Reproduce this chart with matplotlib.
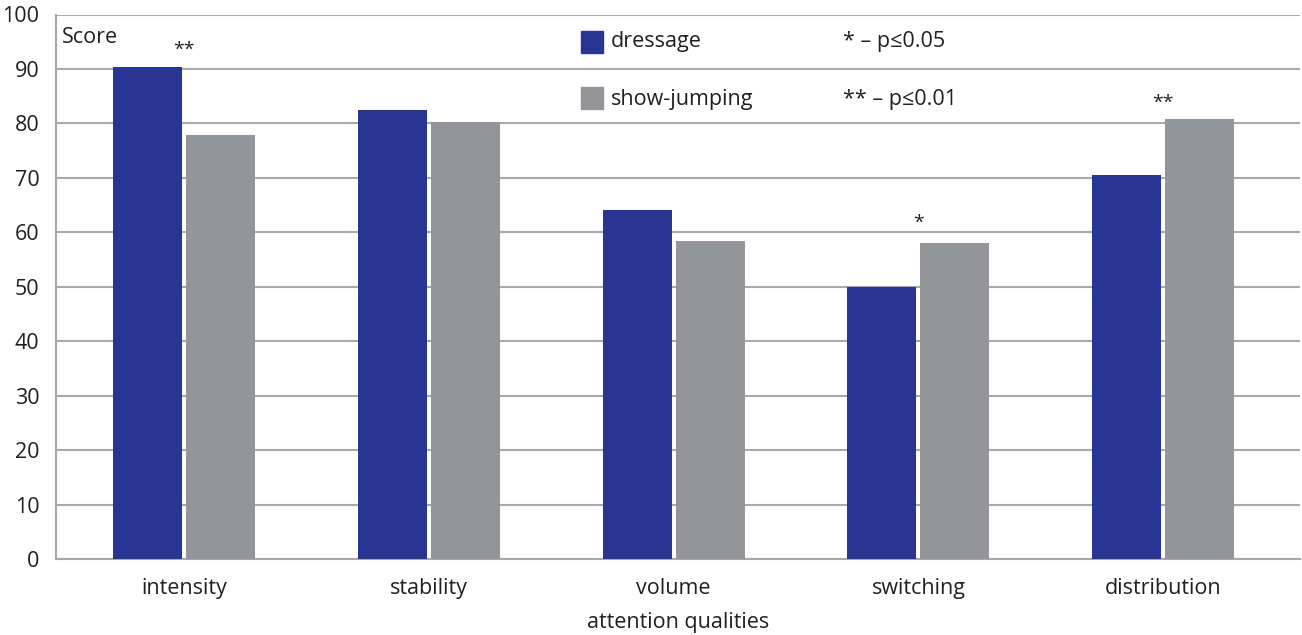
import matplotlib
matplotlib.use("Agg")
import matplotlib.pyplot as plt
import numpy as np

categories = ["intensity", "stability", "volume", "switching", "distribution"]
dressage = [90.4, 82.5, 64.1, 50.0, 70.5]
show_jumping = [77.9, 80.3, 58.4, 58.0, 80.8]
sig_labels = ["**", "", "", "*", "**"]
sig_y = [93.5, None, None, 61.8, 83.8]
yticks = [0, 10, 20, 30, 40, 50, 60, 70, 80, 90, 100]

BLUE = "#283593"
GRAY = "#939598"
GRID = "#A7A9AC"
TXT = "#231F20"

plt.rcParams['font.family'] = ['Open Sans', 'DejaVu Sans']

fig = plt.figure(figsize=(13.02, 6.35), dpi=100)
ax = fig.add_axes([56/1302, (635-559)/635, (1300-56)/1302, (559-14.5)/635])

x = np.arange(len(categories))
w = 0.282
off = 0.149
ax.bar(x - off, dressage, width=w, color=BLUE, zorder=3)
ax.bar(x + off, show_jumping, width=w, color=GRAY, zorder=3)

ax.set_xlim(-0.523, 4.559)
ax.set_ylim(0, 100)
ax.set_yticks(yticks)
ax.set_xticks(x)
ax.set_xticklabels(categories)
ax.tick_params(axis='both', length=0, labelsize=15.5, colors=TXT)
ax.tick_params(axis='y', pad=12)
ax.tick_params(axis='x', pad=14)
ax.yaxis.grid(True, color=GRID, linewidth=1.5, zorder=0)
ax.set_axisbelow(True)
for s in ["top", "right"]:
    ax.spines[s].set_visible(False)
ax.spines["left"].set_color(GRID)
ax.spines["left"].set_linewidth(1.5)
ax.spines["bottom"].set_color(GRID)
ax.spines["bottom"].set_linewidth(1.5)

ax.set_xlabel("attention qualities", fontsize=15.5, color=TXT, labelpad=9)

for xi, lab, yv in zip(x, sig_labels, sig_y):
    if lab:
        ax.text(xi, yv, lab, ha='center', va='center', fontsize=14, color=TXT)

ax.text(6/1244, 0.957, "Score", transform=ax.transAxes, fontsize=15.5, color=TXT,
        ha='left', va='center')

# legend
fig.patches.append(plt.Rectangle((581/1302, (635-53)/635), 22/1302, 22/635,
                                 transform=fig.transFigure, color=BLUE))
fig.patches.append(plt.Rectangle((581/1302, (635-109)/635), 22/1302, 22/635,
                                 transform=fig.transFigure, color=GRAY))
fig.text(611/1302, (635-41)/635, "dressage", fontsize=15.5, color=TXT, va='center')
fig.text(611/1302, (635-99)/635, "show-jumping", fontsize=15.5, color=TXT, va='center')
fig.text(843/1302, (635-41)/635, "* \u2013 p\u22640.05", fontsize=15.5, color=TXT, va='center')
fig.text(843/1302, (635-99)/635, "** \u2013 p\u22640.01", fontsize=15.5, color=TXT, va='center')

fig.savefig("out.png", dpi=100, facecolor="white")
